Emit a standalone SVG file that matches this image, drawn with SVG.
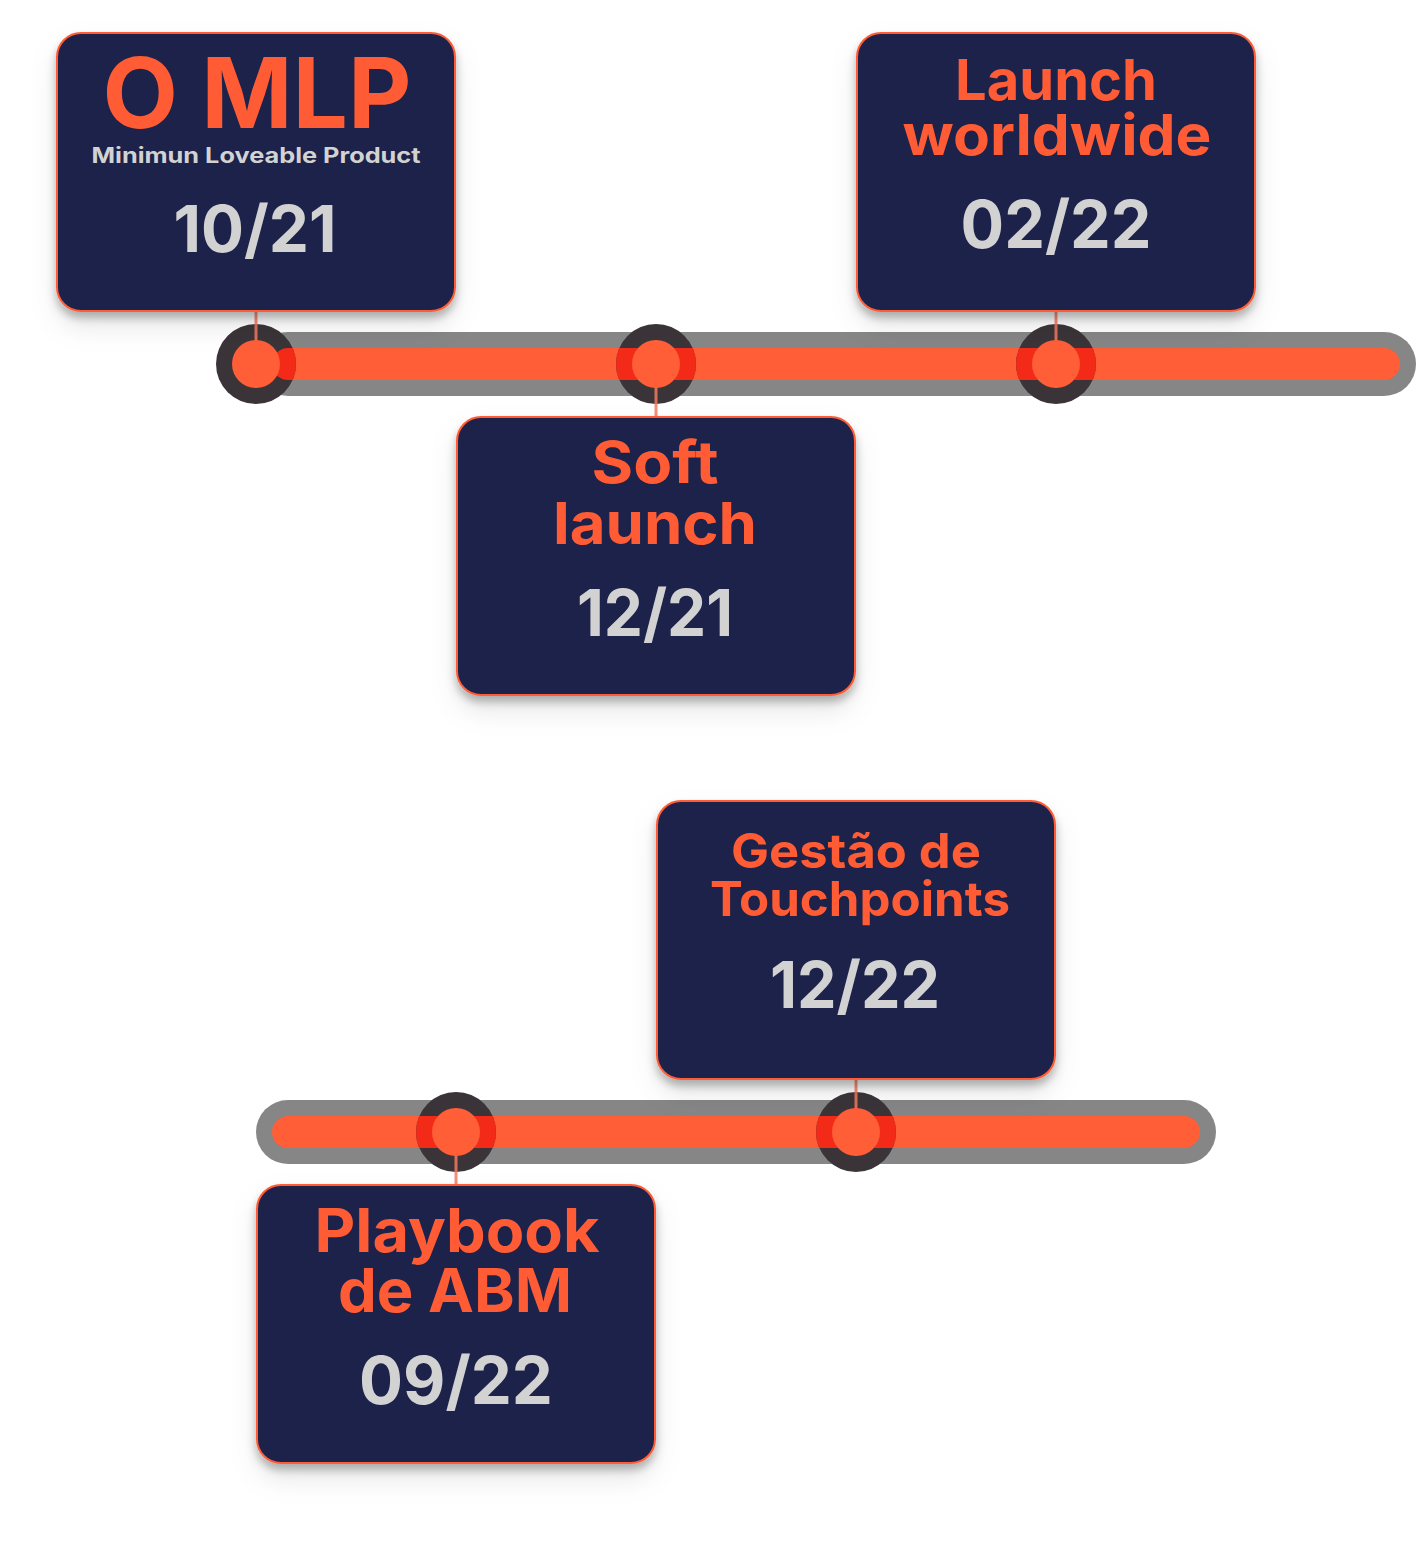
<svg xmlns="http://www.w3.org/2000/svg" width="1416" height="1544" viewBox="0 0 1416 1544">
<defs>
<style>
.card{fill:#1e2249;stroke:#ff5c35;stroke-width:2;filter:url(#sh)}
.t{font-family:Inter,"Liberation Sans",sans-serif;font-weight:700;text-anchor:middle}
.o{fill:#ff5c35}
.g{fill:#d2d2d2}
.track{stroke:#868686;stroke-width:64;stroke-linecap:round;fill:none}
.fill{stroke:#ff5e37;stroke-width:32;stroke-linecap:round;fill:none}
.ring{fill:#3a3439}
.red{fill:#f42a18}
.dot{fill:#ff5e37}
.link{stroke:#f47a5f;stroke-width:3;opacity:0.85}
</style>
<filter id="sh" x="-20%" y="-20%" width="140%" height="150%">
<feDropShadow dx="0" dy="14" stdDeviation="14" flood-color="#000" flood-opacity="0.08"/>
<feDropShadow dx="0" dy="6" stdDeviation="4" flood-color="#000" flood-opacity="0.28"/>
</filter>
<clipPath id="b1"><rect x="272" y="348" width="1128" height="32" rx="16"/></clipPath>
<clipPath id="b2"><rect x="272" y="1116" width="928" height="32" rx="16"/></clipPath>
</defs>
<rect width="1416" height="1544" fill="#ffffff"/>

<g id="timeline-1">
<line class="track" x1="288" y1="364" x2="1384" y2="364"/>
<line class="fill" x1="288" y1="364" x2="1384" y2="364"/>
</g>
<g id="timeline-2">
<line class="track" x1="288" y1="1132" x2="1184" y2="1132"/>
<line class="fill" x1="288" y1="1132" x2="1184" y2="1132"/>
</g>

<g id="markers">
<circle class="ring" cx="256" cy="364" r="40"/>
<circle class="red" cx="256" cy="364" r="40" clip-path="url(#b1)"/>
<circle class="ring" cx="656" cy="364" r="40"/>
<circle class="red" cx="656" cy="364" r="40" clip-path="url(#b1)"/>
<circle class="ring" cx="1056" cy="364" r="40"/>
<circle class="red" cx="1056" cy="364" r="40" clip-path="url(#b1)"/>
<circle class="ring" cx="456" cy="1132" r="40"/>
<circle class="red" cx="456" cy="1132" r="40" clip-path="url(#b2)"/>
<circle class="ring" cx="856" cy="1132" r="40"/>
<circle class="red" cx="856" cy="1132" r="40" clip-path="url(#b2)"/>
</g>

<g id="connectors">
<line class="link" x1="256" y1="311" x2="256" y2="364"/>
<line class="link" x1="656" y1="364" x2="656" y2="417"/>
<line class="link" x1="1056" y1="311" x2="1056" y2="364"/>
<line class="link" x1="856" y1="1078" x2="856" y2="1132"/>
<line class="link" x1="456" y1="1132" x2="456" y2="1185"/>
</g>

<g id="marker-dots">
<circle class="dot" cx="256" cy="364" r="24"/>
<circle class="dot" cx="656" cy="364" r="24"/>
<circle class="dot" cx="1056" cy="364" r="24"/>
<circle class="dot" cx="456" cy="1132" r="24"/>
<circle class="dot" cx="856" cy="1132" r="24"/>
</g>

<g id="node-mlp">
<rect class="card" x="57" y="33" width="398" height="278" rx="24"/>
<text class="t o" x="257" y="128" font-size="97" textLength="309" lengthAdjust="spacingAndGlyphs">O MLP</text>
<text class="t g" x="256" y="163" font-size="21" textLength="329" lengthAdjust="spacingAndGlyphs">Minimun Loveable Product</text>
<text class="t g" x="255" y="252" font-size="65" textLength="163" lengthAdjust="spacingAndGlyphs">10/21</text>
</g>

<g id="node-launch-worldwide">
<rect class="card" x="857" y="33" width="398" height="278" rx="24"/>
<text class="t o" x="1056" y="100" font-size="56" textLength="202" lengthAdjust="spacingAndGlyphs">Launch</text>
<text class="t o" x="1057" y="155" font-size="56" textLength="309" lengthAdjust="spacingAndGlyphs">worldwide</text>
<text class="t g" x="1056" y="248" font-size="66" textLength="191" lengthAdjust="spacingAndGlyphs">02/22</text>
</g>

<g id="node-soft-launch">
<rect class="card" x="457" y="417" width="398" height="278" rx="24"/>
<text class="t o" x="655" y="483" font-size="58" textLength="127" lengthAdjust="spacingAndGlyphs">Soft</text>
<text class="t o" x="655" y="544" font-size="58" textLength="204" lengthAdjust="spacingAndGlyphs">launch</text>
<text class="t g" x="655" y="636" font-size="65" textLength="156" lengthAdjust="spacingAndGlyphs">12/21</text>
</g>

<g id="node-gestao">
<rect class="card" x="657" y="801" width="398" height="278" rx="24"/>
<text class="t o" x="856" y="868" font-size="48" textLength="250" lengthAdjust="spacingAndGlyphs">Gestão de</text>
<text class="t o" x="860" y="916" font-size="48" textLength="300" lengthAdjust="spacingAndGlyphs">Touchpoints</text>
<text class="t g" x="855" y="1008" font-size="65" textLength="170" lengthAdjust="spacingAndGlyphs">12/22</text>
</g>

<g id="node-playbook">
<rect class="card" x="257" y="1185" width="398" height="278" rx="24"/>
<text class="t o" x="457" y="1252" font-size="60" textLength="285" lengthAdjust="spacingAndGlyphs">Playbook</text>
<text class="t o" x="455" y="1312" font-size="60" textLength="234" lengthAdjust="spacingAndGlyphs">de ABM</text>
<text class="t g" x="456" y="1404" font-size="66" textLength="194" lengthAdjust="spacingAndGlyphs">09/22</text>
</g>
</svg>
